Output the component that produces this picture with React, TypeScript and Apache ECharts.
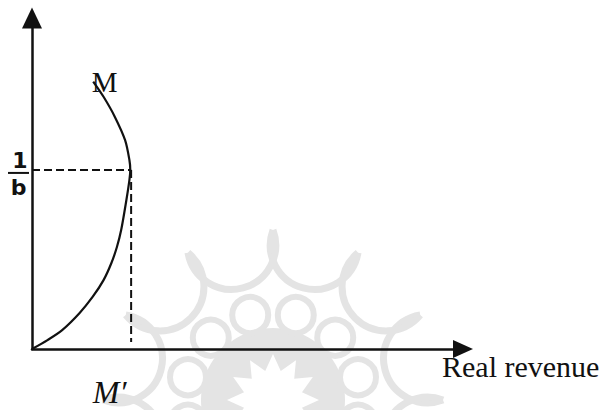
import React, { useEffect, useRef } from "react";
import * as echarts from "echarts";

// Curve M–M' (axis units 0..100)
const curveX = [0, 3.6, 7.0, 11.0, 14.1, 16.6, 18.4, 19.7, 20.7, 21.9, 22.6, 22.8, 22.6, 21.6, 19.2, 16.6, 14.2];
const curveY = [0, 2.7, 5.7, 10.8, 15.8, 20.8, 25.9, 30.8, 36.0, 45.0, 51.0, 54.1, 57.1, 63.1, 70.2, 76.2, 80.8];
// turning point of the curve (level 1/b, position M')
const turnX = 23.0;
const turnY = 54.1;
const dashFloor = 2.1;
const axisMin = 0;
const axisMax = 100;

const curveLabel = "M";
const footLabel = "M\u2032";
const xTitle = "Real revenue";
const fracNum = "1";
const fracDen = "b";

const INK = "#111111";
const GREY = "#e4e4e4";
const SERIF = '"Liberation Serif", "Times New Roman", serif';
const SANS = '"DejaVu Sans", Verdana, sans-serif';

function watermark(): any[] {
  const cx = 273;
  const cy = 400;
  const els: any[] = [];
  const rad = (d: number) => (d * Math.PI) / 180;
  const pt = (r: number, deg: number) => [cx + r * Math.cos(rad(deg)), cy - r * Math.sin(rad(deg))];
  els.push({ type: "circle", z: -10, silent: true, shape: { cx, cy, r: 72 }, style: { fill: GREY } });
  const star: number[][] = [];
  for (let i = 0; i < 24; i++) star.push(pt(i % 2 === 0 ? 46 : 30, i * 15));
  els.push({ type: "polygon", z: -9, silent: true, shape: { points: star }, style: { fill: "#ffffff" } });
  for (let k = 0; k < 12; k++) {
    const [x, y] = pt(88, 15 + 30 * k);
    els.push({
      type: "circle",
      z: -8,
      silent: true,
      shape: { cx: x, cy: y, r: 18 },
      style: { fill: "#ffffff", stroke: GREY, lineWidth: 6 },
    });
  }
  for (let k = 0; k < 12; k++) {
    const A = pt(170, 30 * k);
    const B = pt(170, 30 * (k + 1));
    const D = pt(116, 15 + 30 * k);
    const [ax, ay] = A, [bx, by] = B, [dx, dy] = D;
    const d = 2 * (ax * (by - dy) + bx * (dy - ay) + dx * (ay - by));
    const ux = ((ax * ax + ay * ay) * (by - dy) + (bx * bx + by * by) * (dy - ay) + (dx * dx + dy * dy) * (ay - by)) / d;
    const uy = ((ax * ax + ay * ay) * (dx - bx) + (bx * bx + by * by) * (ax - dx) + (dx * dx + dy * dy) * (bx - ax)) / d;
    const r = Math.hypot(ax - ux, ay - uy);
    const a1 = Math.atan2(ay - uy, ax - ux);
    const a2 = Math.atan2(by - uy, bx - ux);
    const ad = Math.atan2(dy - uy, dx - ux);
    const TAU = Math.PI * 2;
    const norm = (v: number) => ((v % TAU) + TAU) % TAU;
    const passes = norm(ad - a1) < norm(a2 - a1);
    els.push({
      type: "arc",
      z: -8,
      silent: true,
      shape: { cx: ux, cy: uy, r, startAngle: passes ? a1 : a2, endAngle: passes ? a2 : a1, clockwise: true },
      style: { fill: "none", stroke: GREY, lineWidth: 7 },
    });
  }
  return els;
}

function text(x: number, y: number, t: string, font: string, align = "center"): any {
  return {
    type: "text",
    z: 20,
    x,
    y,
    style: {
      text: t,
      font,
      fill: INK,
      align,
      verticalAlign: "middle",
      textAlign: align,
      textVerticalAlign: "middle",
    },
  };
}

export default function App() {
  const ref = useRef<HTMLDivElement>(null);

  useEffect(() => {
    document.body.style.margin = "0";
    const chart = echarts.init(ref.current!, null, { renderer: "svg" });
    const axisCommon = {
      type: "value",
      min: axisMin,
      max: axisMax,
      axisTick: { show: false },
      axisLabel: { show: false },
      splitLine: { show: false },
    };
    chart.setOption({
      animation: false,
      backgroundColor: "#ffffff",
      grid: { left: 32, top: 18, right: 144, bottom: 61 },
      xAxis: {
        ...axisCommon,
        axisLine: {
          show: true,
          symbol: ["none", "triangle"],
          symbolSize: [18, 20],
          lineStyle: { color: INK, width: 2.5 },
        },
      },
      yAxis: {
        ...axisCommon,
        axisLine: {
          show: true,
          symbol: ["none", "triangle"],
          symbolSize: [20, 21],
          lineStyle: { color: INK, width: 2.5 },
        },
      },
      series: [
        {
          type: "line",
          data: curveX.map((x, i) => [x, curveY[i]]),
          smooth: 0.3,
          showSymbol: false,
          lineStyle: { color: INK, width: 2.2 },
          z: 3,
        },
        {
          type: "line",
          data: [
            [axisMin, turnY],
            [turnX, turnY],
          ],
          showSymbol: false,
          lineStyle: { color: INK, width: 2, type: [8, 4] },
        },
        {
          type: "line",
          data: [
            [turnX, turnY],
            [turnX, dashFloor],
          ],
          showSymbol: false,
          lineStyle: { color: INK, width: 2, type: [8, 4] },
        },
      ],
    });

    const px = (x: number, y: number) => chart.convertToPixel({ gridIndex: 0 }, [x, y]) as number[];
    const turn = px(turnX, turnY);
    const top = px(curveX[curveX.length - 1], curveY[curveY.length - 1]);
    const origin = px(axisMin, axisMin);
    const xEnd = px(axisMax, axisMin);

    chart.setOption({
      graphic: [
        ...watermark(),
        text(top[0] + 11.5, top[1] + 0.5, curveLabel, `29px ${SERIF}`),
        text(turn[0] - 21.5, origin[1] + 43, footLabel, `italic 32px ${SERIF}`),
        text(xEnd[0] - 21, origin[1] + 17.5, xTitle, `30px ${SERIF}`, "left"),
        text(20, turn[1] - 9.5, fracNum, `bold 22px ${SANS}`),
        {
          type: "line",
          z: 20,
          shape: { x1: 8, y1: turn[1] + 3, x2: 29, y2: turn[1] + 3 },
          style: { stroke: INK, lineWidth: 2 },
        },
        text(18.5, turn[1] + 17.5, fracDen, `bold 22px ${SANS}`),
      ],
    });

    return () => chart.dispose();
  }, []);

  return (
    <div
      ref={ref}
      style={{ position: "absolute", left: 0, top: 0, width: 607, height: 410, background: "#fff" }}
    />
  );
}
